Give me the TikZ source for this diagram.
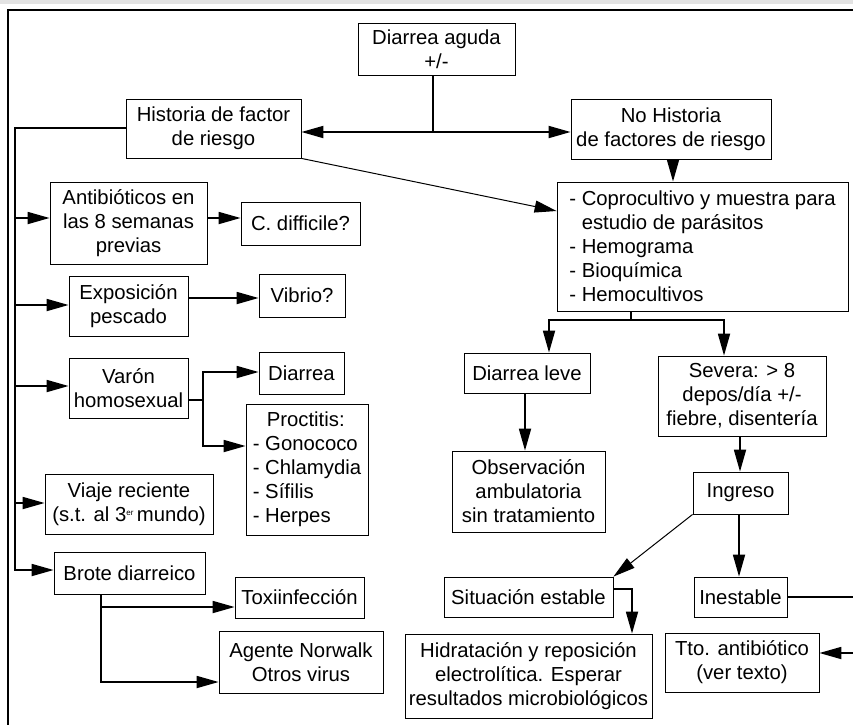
\documentclass[tikz,border=0pt]{standalone}
\usepackage{fontspec}
\setmainfont{Liberation Sans}
\usetikzlibrary{arrows.meta}
\begin{document}
\begin{tikzpicture}[x=1pt,y=-1pt,
  box/.style={draw, line width=0.8pt, inner sep=0pt, align=center,
    font=\fontsize{20.3}{24}\selectfont},
  wh/.style 2 args={minimum width=#1pt, minimum height=#2pt},
  conn/.style={line width=1.8pt},
  arr/.style={conn, -{Triangle[length=22pt,width=12pt]}},
  thinarr/.style={line width=1pt, -{Triangle[length=22pt,width=12pt]}}]
\useasboundingbox (0,0) rectangle (853,724);
\clip (0,0) rectangle (853,724);

% page band and frame
\fill[gray!22] (0,0) rectangle (853,4);
\draw[line width=2pt] (8,730) -- (8,10) -- (860,10);

% boxes
\node[box, wh={157}{52}] (aguda) at (436.5,49) {Diarrea aguda\\+/-};
\node[box, wh={175}{59}] (hist) at (213.5,128.5) {Historia de factor\\de riesgo};
\node[box, wh={200}{60}] (nohist) at (671,129) {No Historia\\de factores de riesgo};
\node[box, wh={291}{129}, align=left] (copro) at (702.5,246.5)
  {- Coprocultivo y muestra para\\\phantom{- }estudio de parásitos\\- Hemograma\\- Bioquímica\\- Hemocultivos};
\node[box, wh={157}{82}] (anti) at (128.5,223) {Antibióticos en\\las 8 semanas\\previas};
\node[box, wh={119}{43}] (cdiff) at (300.5,223.5) {C. difficile?};
\node[box, wh={119}{60}] (expo) at (128.5,306) {Exposición\\pescado};
\node[box, wh={86}{43}] (vibrio) at (302,295.5) {Vibrio?};
\node[box, wh={119}{60}] (varon) at (128.5,388) {Varón\\homosexual};
\node[box, wh={85}{42}] (diarrea) at (301.5,373) {Diarrea};
\node[box, wh={122}{131}, align=left] (proct) at (307,469.5)
  {\hspace*{14pt}Proctitis:\\- Gonococo\\- Chlamydia\\- Sífilis\\- Herpes};
\node[box, wh={168}{60}] (viaje) at (129,504)
  {Viaje reciente\\(s.t. al 3\raisebox{6pt}{\fontsize{8}{8}\selectfont er}\,mundo)};
\node[box, wh={151}{42}] (brote) at (129.5,573) {Brote diarreico};
\node[box, wh={129}{41}] (toxi) at (299.5,597.5) {Toxiinfección};
\node[box, wh={164}{62}] (agente) at (301,662) {Agente Norwalk\\Otros virus};
\node[box, wh={126}{40}] (leve) at (527,373) {Diarrea leve};
\node[box, wh={153}{81}] (obs) at (528.5,491.5) {Observación\\ambulatoria\\sin tratamiento};
\node[box, wh={168}{80}] (severa) at (742,396) {Severa: > 8\\depos/día +/-\\fiebre, disentería};
\node[box, wh={95}{42}] (ingreso) at (740.5,493) {Ingreso};
\node[box, wh={169}{40}] (estable) at (528.5,597) {Situación estable};
\node[box, wh={93}{40}] (inest) at (740.5,597) {Inestable};
\node[box, wh={247}{84}] (hidra) at (528.5,676) {Hidratación y reposición\\electrolítica. Esperar\\resultados microbiológicos};
\node[box, wh={154}{59}] (tto) at (742,662.5) {Tto. antibiótico\\(ver texto)};

% top split
\coordinate (j) at (433,132);
\draw[conn] (aguda.south -| j) -- (j);
\draw[arr] (j) -- (j -| hist.east);
\draw[arr] (j) -- (j -| nohist.west);

% risk-factor bus on the left
\coordinate (bus) at (15,128);
\coordinate (bb) at (15,570);
\draw[arr] (hist.west |- bus) -- (bus) -- (bb) -- (bb -| brote.west);
\coordinate (ba) at (15,218);
\coordinate (be) at (15,305);
\coordinate (bv) at (15,386);
\coordinate (bj) at (15,503);
\draw[arr] (ba) -- (ba -| anti.west);
\draw[arr] (be) -- (be -| expo.west);
\draw[arr] (bv) -- (bv -| varon.west);
\draw[arr] (bj) -- (bj -| viaje.west);

% left-side outcomes
\coordinate (ac) at (0,218);
\draw[arr] (anti.east |- ac) -- (cdiff.west |- ac);
\coordinate (ev) at (0,298);
\draw[arr] (expo.east |- ev) -- (vibrio.west |- ev);
\coordinate (vk) at (203,400);
\coordinate (vt) at (203,372);
\coordinate (vb) at (203,446);
\draw[conn] (varon.east |- vk) -- (vk);
\draw[arr] (vk) -- (vt) -- (vt -| diarrea.west);
\draw[arr] (vk) -- (vb) -- (vb -| proct.west);
\coordinate (bt) at (101,682);
\coordinate (bm) at (101,607);
\draw[arr] (brote.south -| bt) -- (bt) -- (bt -| agente.west);
\draw[arr] (bm) -- (bm -| toxi.west);

% right-hand workup
\coordinate (cd) at (557,211);
\draw[thinarr] (hist.south east) -- (cd -| copro.west);
\coordinate (nc) at (673,160);
\draw[arr] (nohist.south -| nc) -- (copro.north -| nc);
\coordinate (cs) at (631,320);
\coordinate (cl) at (549,320);
\coordinate (cr) at (724,320);
\draw[conn] (copro.south -| cs) -- (cs);
\draw[arr] (cs) -- (cl) -- (cl |- leve.north);
\draw[arr] (cs) -- (cr) -- (cr |- severa.north);
\coordinate (lo) at (525,400);
\draw[arr] (leve.south -| lo) -- (obs.north -| lo);
\coordinate (si) at (740,400);
\draw[arr] (severa.south -| si) -- (ingreso.north -| si);
\coordinate (ii) at (739,500);
\draw[arr] (ingreso.south -| ii) -- (inest.north -| ii);
\draw[thinarr] (ingreso.south west) -- (estable.north east);
\coordinate (eh) at (632,589);
\draw[arr] (estable.east |- eh) -- (eh) -- (eh |- hidra.north);
\coordinate (r1) at (880,597);
\coordinate (r2) at (880,653);
\draw[arr] (inest.east |- r1) -- (r1) -- (r2) -- (r2 -| tto.east);
\end{tikzpicture}
\end{document}
